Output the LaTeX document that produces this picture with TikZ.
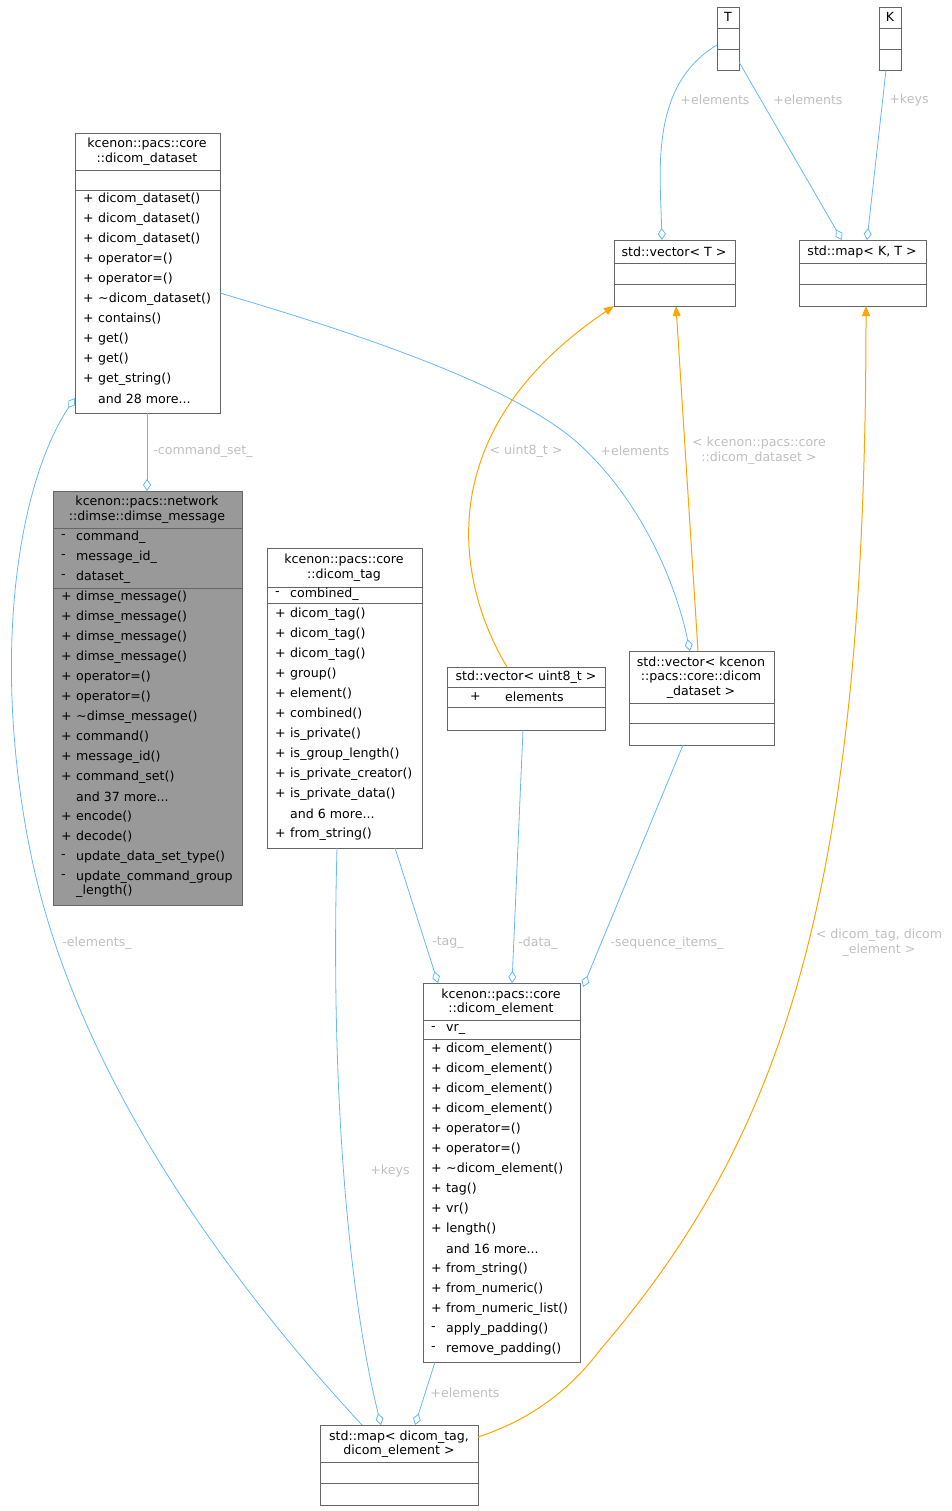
\documentclass[tikz,border=0pt]{standalone}
\usepackage{fontspec}
\setmainfont{DejaVu Sans}
\usetikzlibrary{arrows.meta}
\definecolor{edgeb}{HTML}{63B8FF}
\definecolor{edgeo}{HTML}{FFA500}
\definecolor{lbl}{HTML}{BFBFBF}
\definecolor{bord}{HTML}{666666}
\newcommand\rw[4]{\node[txt] at (#1+8,#2) {#3}; \node[txt] at (#1+23,#2) {#4};}
\newcommand\tl[3]{\node[txt,anchor=center] at (#1,#2) {#3};}
\newcommand\tdots{...}
\begin{document}
\begin{tikzpicture}[x=1pt,y=-1pt,
  txt/.style={anchor=west,inner sep=0pt,font=\fontsize{12.6}{13}\selectfont},
  box/.style={draw=bord,line width=0.8pt},
  el/.style={font=\fontsize{12.6}{15}\selectfont,text=lbl,align=center,inner sep=0pt},
  mem/.style={draw=edgeb,line width=0.8pt,-{Diamond[open,length=12,width=8]}},
  inh/.style={draw=edgeo,line width=1pt,-{Triangle[length=10,width=8]}}]
\useasboundingbox (0,0) rectangle (951,1511);
% boxes
\node[box,fill=white,minimum width=145,minimum height=280,inner sep=0,anchor=north west] (ds) at (75,133) {};
\draw[bord] (75,170)--(220,170) (75,190)--(220,190);
\tl{147}{144}{kcenon::pacs::core}\tl{147}{159}{::dicom\_dataset}
\foreach \t [count=\i from 0] in {dicom\_dataset(),dicom\_dataset(),dicom\_dataset(),operator=(),operator=(),\textasciitilde dicom\_dataset(),contains(),get(),get(),get\_string()}{\rw{75}{199+20*\i}{+}{\t}}
\node[txt] at (98,399) {and 28 more...};

\node[box,fill=black!40,minimum width=189,minimum height=414,inner sep=0,anchor=north west] (dm) at (53,491) {};
\draw[bord] (53,528)--(242,528) (53,588)--(242,588);
\tl{147}{502}{kcenon::pacs::network}\tl{147}{517}{::dimse::dimse\_message}
\rw{53}{537}{-}{command\_}\rw{53}{557}{-}{message\_id\_}\rw{53}{577}{-}{dataset\_}
\foreach \s/\t [count=\i from 0] in {+/dimse\_message(),+/dimse\_message(),+/dimse\_message(),+/dimse\_message(),+/operator=(),+/operator=(),+/\textasciitilde dimse\_message(),+/command(),+/message\_id(),+/command\_set(),/and 37 more\tdots,+/encode(),+/decode(),-/update\_data\_set\_type(),-/update\_command\_group}{\rw{53}{597+20*\i}{\s}{\t}}
\node[txt] at (76,891) {\_length()};

\node[box,fill=white,minimum width=155,minimum height=300,inner sep=0,anchor=north west] (tg) at (267,548) {};
\draw[bord] (267,587)--(422,587) (267,603)--(422,603);
\tl{344}{560}{kcenon::pacs::core}\tl{344}{575}{::dicom\_tag}
\rw{267}{594}{-}{combined\_}
\foreach \s/\t [count=\i from 0] in {+/dicom\_tag(),+/dicom\_tag(),+/dicom\_tag(),+/group(),+/element(),+/combined(),+/is\_private(),+/is\_group\_length(),+/is\_private\_creator(),+/is\_private\_data(),/and 6 more\tdots,+/from\_string()}{\rw{267}{614+20*\i}{\s}{\t}}

\node[box,fill=white,minimum width=158,minimum height=63,inner sep=0,anchor=north west] (vu) at (447,667) {};
\draw[bord] (447,687)--(605,687) (447,707)--(605,707);
\tl{526}{677}{std::vector< uint8\_t >}
\node[txt] at (470,697) {+};\node[txt] at (505,697) {elements};

\node[box,fill=white,minimum width=145,minimum height=94,inner sep=0,anchor=north west] (vk) at (629,651) {};
\draw[bord] (629,703)--(774,703) (629,723)--(774,723);
\tl{701}{662}{std::vector< kcenon}\tl{701}{677}{::pacs::core::dicom}\tl{701}{692}{\_dataset >}

\node[box,fill=white,minimum width=121,minimum height=66,inner sep=0,anchor=north west] (vt) at (614,240) {};
\draw[bord] (614,263)--(735,263) (614,284)--(735,284);
\tl{674}{252}{std::vector< T >}

\node[box,fill=white,minimum width=127,minimum height=66,inner sep=0,anchor=north west] (mk) at (799,240) {};
\draw[bord] (799,263)--(926,263) (799,284)--(926,284);
\tl{862}{252}{std::map< K, T >}

\node[box,fill=white,minimum width=22,minimum height=63,inner sep=0,anchor=north west] (T) at (717,7) {};
\draw[bord] (717,28)--(739,28) (717,49)--(739,49);
\tl{728}{17}{T}
\node[box,fill=white,minimum width=22,minimum height=63,inner sep=0,anchor=north west] (K) at (879,7) {};
\draw[bord] (879,28)--(901,28) (879,49)--(901,49);
\tl{890}{17}{K}

\node[box,fill=white,minimum width=157,minimum height=379,inner sep=0,anchor=north west] (de) at (423,983) {};
\draw[bord] (423,1020)--(580,1020) (423,1039)--(580,1039);
\tl{501}{995}{kcenon::pacs::core}\tl{501}{1009}{::dicom\_element}
\rw{423}{1029}{-}{vr\_}
\foreach \s/\t [count=\i from 0] in {+/dicom\_element(),+/dicom\_element(),+/dicom\_element(),+/dicom\_element(),+/operator=(),+/operator=(),+/\textasciitilde dicom\_element(),+/tag(),+/vr(),+/length(),/and 16 more\tdots,+/from\_string(),+/from\_numeric(),+/from\_numeric\_list(),-/apply\_padding(),-/remove\_padding()}{\rw{423}{1049+20*\i}{\s}{\t}}

\node[box,fill=white,minimum width=158,minimum height=80,inner sep=0,anchor=north west] (mp) at (320,1425) {};
\draw[bord] (320,1462)--(478,1462) (320,1483)--(478,1483);
\tl{399}{1437}{std::map< dicom\_tag,}\tl{399}{1451}{dicom\_element >}

% edges
\coordinate (a1) at (717,45);\coordinate (b1) at (662,240);
\draw[mem] (a1) .. controls (650,85) and (660,170) .. (b1);
\node[el] at (715,100) {+elements};
\draw[mem] (739,62) -- (842,240); \node[el] at (808,100) {+elements};
\draw[mem] (886,70) -- (867,240); \node[el] at (909,100) {+keys};
\draw[mem] (147,413) -- (147,491); \node[el] at (203,451) {-command\_set\_};
\draw[mem] (220,293) .. controls (380,340) and (520,390) .. (580,445) .. controls (640,500) and (675,580) .. (690,651);
\node[el] at (635,451) {+elements};
\draw[mem] (362,1425) .. controls (200,1250) and (70,1050) .. (30,850) .. controls (-10,650) and (20,480) .. (75,398);
\node[el] at (97,943) {-elements\_};
\draw[mem] (395,848) -- (438,983); \node[el] at (448,943) {-tag\_};
\draw[mem] (523,730) -- (512,983); \node[el] at (538,943) {-data\_};
\draw[mem] (683,745) -- (583,987); \node[el] at (667,943) {-sequence\_items\_};
\draw[mem] (337,848) .. controls (330,1100) and (350,1300) .. (381,1425); \node[el] at (390,1171) {+keys};
\draw[mem] (435,1362) -- (415,1425); \node[el] at (465,1393) {+elements};
\draw[inh] (507,667) .. controls (455,580) and (430,430) .. (614,306); \node[el] at (526,451) {< uint8\_t >};
\draw[inh] (698,651) -- (676,306); \node[el] at (759,451) {< kcenon::pacs::core\\::dicom\_dataset >};
\draw[inh] (478,1437) .. controls (530,1420) and (570,1390) .. (600,1350) .. controls (780,1140) and (866,900) .. (866,306);
\node[el] at (879,943) {< dicom\_tag, dicom\\\_element >};
\end{tikzpicture}
\end{document}
